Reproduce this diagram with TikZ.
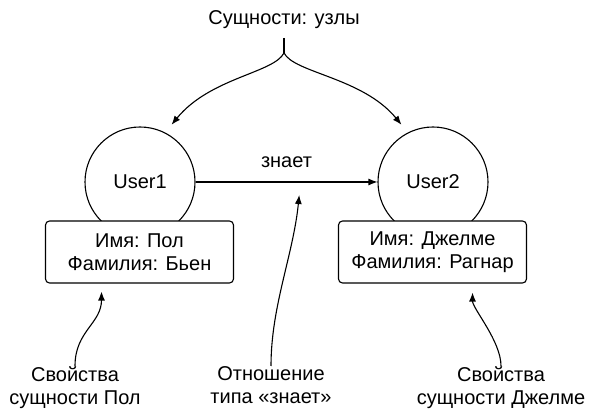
\documentclass[tikz,border=0pt]{standalone}
\usepackage{fontspec}
\setmainfont{Liberation Sans}
\usetikzlibrary{arrows.meta,positioning,calc}

\begin{document}
\begin{tikzpicture}[
  x=1pt, y=-1pt,
  font=\fontsize{20}{23}\selectfont, line width=1.1pt,
  ent/.style={draw, circle, minimum size=110pt, inner sep=0pt},
  props/.style={draw, rounded corners=4pt, fill=white, align=center, minimum width=188pt, minimum height=62pt, inner sep=2pt},
  lbl/.style={align=center, inner sep=0pt},
  pf/.style={-{Latex[length=9pt,width=7pt]}}
]
\useasboundingbox (0,0) rectangle (589,411);
\node (title) at (284,20) {Сущности: узлы};
\node[ent] (u1) at (140,182) {User1};
\node[ent] (u2) at (433,182) {User2};
\node[props] (p1) at (139.5,252) {Имя: Пол\\Фамилия: Бьен};
\node[props] (p2) at (432.5,252) {Имя: Джелме\\Фамилия: Рагнар};
\node[lbl, anchor=north] (lp1) at (75,366) {Свойства\\сущности Пол};
\node[lbl, anchor=north] (lrel) at (271,366) {Отношение\\типа «знает»};
\node[lbl, anchor=north] (lp2) at (501,366) {Свойства\\сущности Джелме};
% nodes from the title
\coordinate[below=20pt of title] (fork);
\draw[shorten <=5pt] (title) -- (fork);
\draw[pf, shorten >=10pt] (fork) .. controls +(-10,20) and +(45,-55) .. (u1.63);
\draw[pf, shorten >=10pt] (fork) .. controls +(10,20) and +(-45,-55) .. (u2.117);
% relation
\draw[pf] (u1) -- node[above=10pt] {знает} coordinate[pos=0.57] (rel) (u2);
% callouts
\draw[pf, shorten >=8pt] (lp1.north) .. controls +(0,-35) and +(0,40) .. ($(p1.south)+(-38,0)$);
\draw[pf] (lrel.north) .. controls +(0,-60) and +(-6,60) .. ($(rel)+(0,13)$);
\draw[pf, shorten >=9pt] (lp2.north) .. controls +(0,-25) and +(0,25) .. ($(p2.south)+(40,0)$);
\end{tikzpicture}
\end{document}
